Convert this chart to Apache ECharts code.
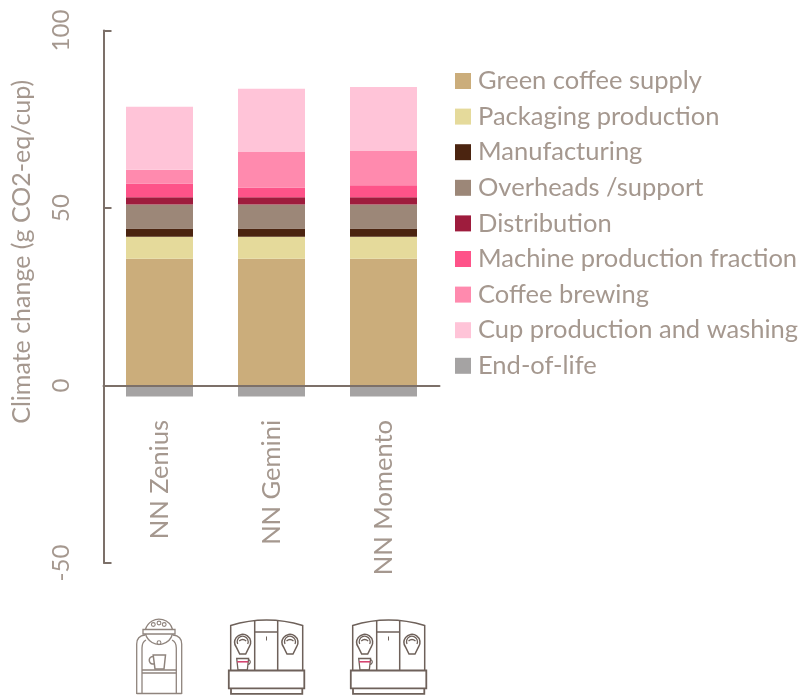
<!DOCTYPE html>
<html>
<head>
<meta charset="utf-8">
<style>html,body{margin:0;padding:0;background:#fff}#c{width:799px;height:695px}</style>
<script src="https://cdn.jsdelivr.net/npm/echarts@6/dist/echarts.min.js"></script>
</head>
<body>
<div id="c"></div>
<script>
const categories = ['NN Zenius', 'NN Gemini', 'NN Momento'];
const yTicks = { min: -50, max: 100, interval: 50 };
const seriesNames = ['Green coffee supply','Packaging production','Manufacturing','Overheads /support','Distribution','Machine production fraction','Coffee brewing','Cup production and washing','End-of-life'];
const greenCoffee = [35.7, 35.7, 35.7];
const packaging = [6.2, 6.2, 6.2];
const manufacturing = [2.3, 2.3, 2.3];
const overheads = [6.8, 6.8, 6.8];
const distribution = [2.0, 2.0, 2.0];
const machineProduction = [3.9, 2.8, 3.4];
const coffeeBrewing = [3.9, 10.0, 9.8];
const cupProduction = [17.7, 17.8, 17.9];
const endOfLife = [-3.1, -3.1, -3.1];
const seriesValues = [greenCoffee, packaging, manufacturing, overheads, distribution, machineProduction, coffeeBrewing, cupProduction, endOfLife];
const colors = ['#cbad7b','#e5da9b','#4b2410','#9c8778','#9e1c3d','#fe5389','#ff8aae','#ffc4d8','#a5a3a3'];

const FONT = 'Lato, "Open Sans", sans-serif';
const TEXT = '#a5988f';
const LINE = '#7c7069';
const DARK = '#6e615a';
const THIN = '#8f847d';

function stroke(c, w) { return { stroke: c, lineWidth: w, fill: 'none' }; }

const shapeNames = {};
let shapeCount = 0;
function pathEl(d, c, w) {
  if (!shapeNames[d]) {
    const name = 'iconPath' + (shapeCount++);
    echarts.graphic.registerShape(name, echarts.graphic.extendPath(d, {}));
    shapeNames[d] = name;
  }
  return { type: shapeNames[d], style: stroke(c, w), silent: true };
}
function circleEl(cx, cy, r, c, w) {
  return { type: 'circle', shape: { cx: cx, cy: cy, r: r }, style: stroke(c, w), silent: true };
}

function zeniusIcon() {
  const c = THIN, w = 1.3;
  return { type: 'group', x: 0, y: 0, silent: true, children: [
    pathEl('M136.7 694 L136.7 644 Q136.7 636 145 635', c, w),
    pathEl('M181.7 694 L181.7 644 Q181.7 636 173 635', c, w),
    pathEl('M142 694 L142 648 Q142 642 146 640', c, w),
    pathEl('M176.3 694 L176.3 648 Q176.3 642 172 640', c, w),
    pathEl('M136.7 693.5 L181.7 693.5', c, w),
    pathEl('M142 670 L176.3 670 M142 673 L176.3 673', c, w),
    pathEl('M145.5 629.5 A14 14 0 0 1 172.5 629.5', c, w),
    pathEl('M145.5 634 A14 14 0 0 0 172.5 634', c, w),
    pathEl('M143 629.5 L175 629.5 L175 634 L143 634 Z', c, w),
    circleEl(153.3, 624.5, 1.9, c, 1.1),
    circleEl(159, 623, 1.9, c, 1.1),
    circleEl(164.2, 624.5, 1.9, c, 1.1),
    circleEl(159, 642.7, 1.9, c, 1.1),
    pathEl('M153.2 655 L165.5 655 L164 669 L155 669 Z', c, 1.5),
    pathEl('M153.4 656.5 A3.8 3.8 0 1 0 154.5 663.8', c, 1.5)
  ]};
}

function spout(cx, c) {
  return [
    pathEl('M' + (cx - 3) + ' 654 L' + (cx + 3) + ' 654 L' + (cx + 6.5) + ' 647 A8 8 0 1 0 ' + (cx - 6.5) + ' 647 Z', c, 1.5),
    pathEl('M' + (cx - 5) + ' 644 A5.5 5.5 0 1 1 ' + (cx + 5) + ' 644', c, 1.3),
    pathEl('M' + (cx - 3.5) + ' 641 Q' + cx + ' 638 ' + (cx + 3.5) + ' 641', c, 1.3)
  ];
}

function geminiIcon(dx) {
  const c = DARK, w = 1.5;
  return { type: 'group', x: dx, y: 0, silent: true, children: [
    pathEl('M230.7 670.5 L230.7 625.5 Q266.5 614.5 302.7 625.5 L302.7 670.5', c, w),
    pathEl('M254.7 621 L254.7 670.5 M277.7 621 L277.7 670.5', c, w),
    pathEl('M254.7 632 L277.7 632', c, w),
    pathEl('M266.5 636.5 L266.5 640.5', c, 1),
    pathEl('M228.8 670.5 L304.3 670.5 L304.3 688.3 L228.8 688.3 Z', c, 1.8),
    pathEl('M231 688.3 L231 693.8 L302.3 693.8 L302.3 688.3', c, 1.8)
  ].concat(spout(242.7, c), spout(290, c), [
    pathEl('M236.7 658.5 L248.6 658.5 L247.3 670 L238 670 Z', c, 1.3),
    pathEl('M237.2 661.8 L248.2 661.8', '#d23a68', 1.5),
    pathEl('M248.6 659.5 A2.6 2.6 0 0 1 248 664.5', c, 1.2)
  ])};
}

const series = seriesNames.map((name, i) => ({
  name: name,
  type: 'bar',
  stack: 'total',
  barWidth: 67,
  data: seriesValues[i],
  itemStyle: { color: colors[i] },
  emphasis: { disabled: true },
  animation: false
}));

const chart = echarts.init(document.getElementById('c'), null, { renderer: 'canvas' });
chart.setOption({
  animation: false,
  backgroundColor: '#fff',
  textStyle: { fontFamily: FONT },
  grid: { left: 103.5, top: 30.5, width: 336, height: 532.5, containLabel: false, outerBoundsMode: 'none' },
  legend: {
    orient: 'vertical',
    left: 455,
    top: 66.5,
    padding: 0,
    itemWidth: 16,
    itemHeight: 16,
    itemGap: 6.6,
    icon: 'rect',
    selectedMode: false,
    data: seriesNames,
    textStyle: { color: TEXT, fontFamily: FONT, fontSize: 25.5, lineHeight: 26, padding: [0, 0, 3, 2] }
  },
  xAxis: {
    type: 'category',
    data: categories,
    z: 5,
    axisLine: { onZero: true, lineStyle: { color: LINE, width: 2 } },
    axisTick: { show: false },
    axisLabel: { rotate: 90, margin: -143, color: TEXT, fontFamily: FONT, fontSize: 25.5 }
  },
  yAxis: {
    type: 'value',
    min: yTicks.min,
    max: yTicks.max,
    interval: yTicks.interval,
    name: 'Climate change (g CO2-eq/cup)',
    nameLocation: 'middle',
    nameRotate: 90,
    nameGap: 69,
    nameTextStyle: { color: TEXT, fontFamily: FONT, fontSize: 25, padding: [0, 0, 0, 90] },
    splitLine: { show: false },
    z: 5,
    axisLine: { show: true, lineStyle: { color: LINE, width: 2 } },
    axisTick: { show: true, inside: true, length: 8, lineStyle: { color: LINE, width: 2 } },
    axisLabel: { rotate: 90, margin: 30, color: TEXT, fontFamily: FONT, fontSize: 24 }
  },
  series: series,
  graphic: { elements: [zeniusIcon(), geminiIcon(0), geminiIcon(122)] }
});
</script>
</body>
</html>
